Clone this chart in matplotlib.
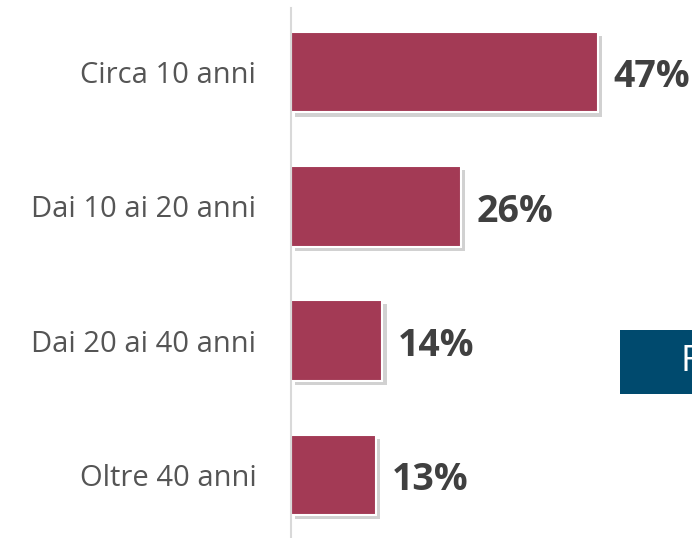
import matplotlib.pyplot as plt
import matplotlib.patheffects as pe
from matplotlib.patches import Rectangle

# Data
categories = ['Circa 10 anni', 'Dai 10 ai 20 anni', 'Dai 20 ai 40 anni', 'Oltre 40 anni']
values = [47, 26, 14, 13]
labels = ['47%', '26%', '14%', '13%']

bar_color = '#a33a55'
font = ['Open Sans', 'DejaVu Sans']

fig = plt.figure(figsize=(6.92, 5.38), dpi=100)
W, H = 692, 538
ax = fig.add_axes([291 / W, 0, (W - 291) / W, 530 / H])

y = list(range(len(categories)))
bars = ax.barh(y, values, height=0.6, color=bar_color, edgecolor='white', linewidth=1.5)
for b in bars:
    b.set_path_effects([pe.SimplePatchShadow(offset=(3, -3), shadow_rgbFace='#999999', alpha=0.45),
                        pe.Normal()])

ax.set_xlim(0, 61.4)
ax.set_ylim(3.47, -0.477)

for yi, v, lab in zip(y, values, labels):
    ax.text(v + 2.4, yi + 0.04, lab, ha='left', va='center', fontsize=27,
            fontweight='bold', color='#404040', family=font)

ax.set_yticks(y)
ax.set_yticklabels(categories, fontsize=21, color='#555555', family=font)
ax.tick_params(axis='y', length=0, pad=25)
ax.set_xticks([])
for s in ['top', 'right', 'bottom']:
    ax.spines[s].set_visible(False)
ax.spines['left'].set_color('#d9d9d9')
ax.spines['left'].set_linewidth(1.5)

# partially visible box on the right
fig.patches.append(Rectangle((620 / W, 1 - 394 / H), 80 / W, 64 / H,
                             transform=fig.transFigure, facecolor='#004a6e',
                             edgecolor='none', zorder=5))
fig.text(680 / W, 1 - 362 / H, 'F', ha='left', va='center', fontsize=26,
         color='white', family=font, zorder=6)

fig.savefig('out.png', dpi=100)
